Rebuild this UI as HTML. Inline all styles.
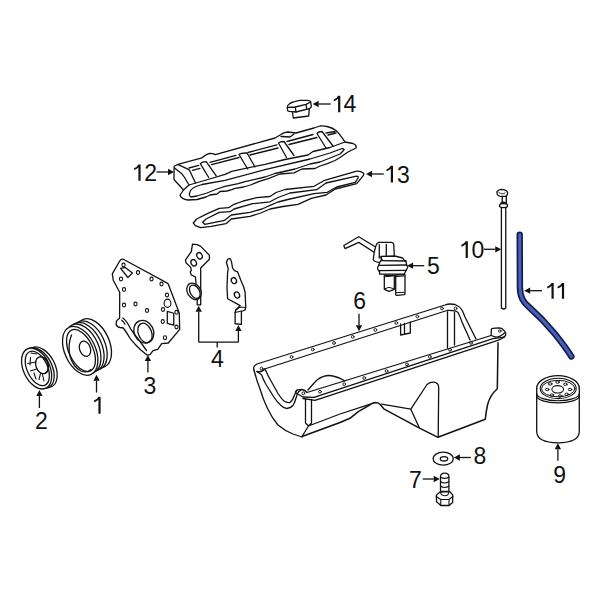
<!DOCTYPE html>
<html><head><meta charset="utf-8">
<style>
html,body{margin:0;padding:0;background:#fff;}
svg{display:block;}
text{font-family:"Liberation Sans",sans-serif;font-size:23px;fill:#111;}
</style></head>
<body>
<svg width="600" height="600" viewBox="0 0 600 600">
<g fill="none" stroke="#111" stroke-width="1.3" stroke-linejoin="round" stroke-linecap="butt">
<line x1="330.7" y1="104" x2="318.70" y2="104.00"/><path d="M312.7,104 L318.70,100.85 L318.70,107.15 Z" fill="#111" stroke="none"/><line x1="156.5" y1="172" x2="168.00" y2="172.00"/><path d="M174,172 L168.00,175.15 L168.00,168.85 Z" fill="#111" stroke="none"/><line x1="383.8" y1="174" x2="372.00" y2="174.00"/><path d="M366,174 L372.00,170.85 L372.00,177.15 Z" fill="#111" stroke="none"/><line x1="483.75" y1="249.3" x2="495.25" y2="249.30"/><path d="M501.25,249.3 L495.25,252.45 L495.25,246.15 Z" fill="#111" stroke="none"/><line x1="542" y1="290.7" x2="530.20" y2="290.70"/><path d="M524.2,290.7 L530.20,287.55 L530.20,293.85 Z" fill="#111" stroke="none"/><line x1="424.2" y1="265.7" x2="413.10" y2="265.70"/><path d="M407.1,265.7 L413.10,262.55 L413.10,268.85 Z" fill="#111" stroke="none"/><line x1="359" y1="313.8" x2="359.00" y2="325.30"/><path d="M359,331.3 L355.85,325.30 L362.15,325.30 Z" fill="#111" stroke="none"/><line x1="147.9" y1="372.5" x2="147.90" y2="361.00"/><path d="M147.9,355 L151.05,361.00 L144.75,361.00 Z" fill="#111" stroke="none"/><line x1="198.7" y1="342.15" x2="198.70" y2="311.80"/><path d="M198.7,305.8 L201.85,311.80 L195.55,311.80 Z" fill="#111" stroke="none"/><line x1="238.4" y1="342.15" x2="238.40" y2="331.00"/><path d="M238.4,325 L241.55,331.00 L235.25,331.00 Z" fill="#111" stroke="none"/><path d="M198.7,342.15 L238.4,342.15 M217.2,342.15 L217.2,347.4" fill="none"/><line x1="96.5" y1="392.5" x2="96.50" y2="380.70"/><path d="M96.5,374.7 L99.65,380.70 L93.35,380.70 Z" fill="#111" stroke="none"/><line x1="39.4" y1="408" x2="39.40" y2="396.10"/><path d="M39.4,390.1 L42.55,396.10 L36.25,396.10 Z" fill="#111" stroke="none"/><line x1="557.9" y1="460.8" x2="557.90" y2="449.30"/><path d="M557.9,443.3 L561.05,449.30 L554.75,449.30 Z" fill="#111" stroke="none"/><line x1="470.9" y1="457.5" x2="459.90" y2="457.50"/><path d="M453.9,457.5 L459.90,454.35 L459.90,460.65 Z" fill="#111" stroke="none"/><line x1="422.7" y1="479" x2="433.70" y2="479.00"/><path d="M439.7,479 L433.70,482.15 L433.70,475.85 Z" fill="#111" stroke="none"/>
</g>
<g fill="#fff" stroke="#111" stroke-width="1.3" stroke-linejoin="round" stroke-linecap="round">
<!-- 14_oil_cap -->
<path d="M292.3,111.5 L293.3,118 L308.7,116 L309.3,108.5 Z"/>
<path d="M287.3,107.3 Q287.5,105 289.3,104 Q291,102.5 293.3,102 Q296,101 300,100.3 L308,100.3 Q310.5,100.8 310.7,102 L311.3,106 L311,107.3 L309.3,108.7 L296,112 L289.3,111.3 Q287.7,111 287.7,110.7 Z"/>
<path d="M287.3,107.3 L295.3,107 L306,104.3 L310.7,102 M295.3,107 L296,112 M306,104.3 L306.7,108.7" fill="none"/>
<!-- 13_gasket -->
<path d="M193.3,223 L196.7,219 L207.3,213.7 L219.3,208.3 L228.7,207.7 L234,204.3 L243.3,201 L256.7,197.7 L270,196.5 L276,192.5 L285.2,189.5 L314,186.3 L324.7,180.3 L356.7,171.2 Q360.5,170.8 363.3,173 Q364.5,174.5 362.7,176.3 L356.7,183.7 L335.3,189 L326,195 L311.3,198.3 L298,204.3 L283,206.5 L270,209 L260.7,213 L250,216.3 L231.3,219 L226,223.7 L211.3,226.3 L200.7,227.7 L195.3,225.7 Z"/>
<path d="M202.7,222.3 L206,219 L219.3,212.3 L230,211.7 L234,209 L252.7,203.7 L270,201.8 L278,197.5 L290,193 L316.7,189.7 L326,183 L356.5,176.2 Q359,176.3 358,178 L355.3,182.3 L336.7,187 L327.3,192.3 L314,193.7 L290,199 L278,202 L270,205.4 L262,209 L250,212.3 L231.3,215 L224.7,220.3 L204.7,224.3 Z" fill="none"/>
<!-- 12_valve_cover_flange -->
<path d="M174.1,166.25 L178.7,164.2 L202,157.9 Q204,155.3 209.5,153.3 Q213,153.3 215.3,154.6 L275,138 L281,134.5 Q284,132 288,132 L296,133 L314,128 L320,126 Q324,125.8 327,126.5 Q333,128 336,130.5 Q339,133 345,142 L353,143.5 Q357,145 356,148 L353,149.5 L348,152 L340,157.5 L335,160.5 L326.7,163.8 L320,166 L315,168.5 L302,169 L294,172.8 L280,174 L268.3,178.6 L260,181.2 L250.3,185 L243.7,187 L235,188.3 L231.7,189.7 L227,191 L220,191.5 L217,194 L210,195 L206,197 L197,199.5 L188,200 Q181,199 180,195 L183.5,190 L174,179.5 Z"/>
<path d="M183.5,190 L189,185 L208,179.5 L225,174.3 L231.7,171.3 L265,164.3 L285,159.5 L308,155 L313,151.5 L330,147.5 L345,142" fill="none"/>
<path d="M189.5,193.5 Q190,189 196,186.5 L202,184.5 L225,180.3 L265,169.7 L310,159 L330,153 L342,148.5 Q345,149 343.5,150.5 L340,154 L330,158 L320,162 L310,164 L295,169 L275,173.5 L265,177 L245,181.7 L238.3,183.7 L225,186.3 L217,189 L207,193 L197,196 L191,197 Q189,196 189.5,193.5 Z" fill="none"/>
<path d="M174.5,168 L181.2,173.3 Q183,175 184.5,177.5 L189,185 M178.25,164.6 L187.8,169.2 Q189.5,170 190,171.25 L195.5,183 M281,136.5 L290,137 L294,134" fill="none"/>
<path d="M189,168 L198.7,165.4 M210,162.3 L236,155.3 M248,152.5 L277,144.8 M287,141.5 L313,134.5 M326,133 L335,131.5 M192.4,170.4 L200,168.3 M211.6,164.6 L239,157.5 M250,155 L278,148 M289,144.5 L317,137.5 M328,135 L336,133" fill="none"/>
<path d="M208.7,177.5 L200.3,163.6 Q202,161.8 206.2,161.7 L216.2,175.8 M247.7,169 L239,154.5 Q241,152.8 247,153 L255,167 M286.5,157.5 L278.5,143 Q280,141.5 284,141.5 L294,155.5 M326,148 L317,133.5 Q318.5,131.5 322,131.5 L333,146" fill="none"/>
<!-- 5_fuel_pump -->
<path d="M343.75,245.5 L358.75,236.75 L376,247.2 L374.5,252.5 L358.75,242.4 L345,248.6 Z"/>
<path d="M375.7,246.3 Q376.5,243 378.7,242.3 L391.3,242.3 Q393.5,242.5 393.8,244.5 L394.3,256.5 L381,257 L381.5,262.3 L379.3,262.3 Q373.5,261.5 373.3,259.7 L374,253.3 Z"/>
<path d="M379.3,244.7 L379.3,258 M386.3,244.5 L386.3,255.7" fill="none"/>
<path d="M381,256.3 L394.7,256 L402.7,258 L404,260 L406,261 L406.5,265 Q408,266.5 407.7,267.3 L406.3,270.3 L405.5,271.5 L404.3,274 L379.7,274.2 L379.5,271.5 L378.7,270.7 Q377,269 377.7,267.3 L378.7,265.3 L380,262 L380.7,260.7 L382,260 Z"/>
<path d="M380.7,260.7 L406,261 M378.7,265.3 L406.7,265 M378.7,270.7 L406.3,270.3" fill="none"/>
<path d="M384.3,275.3 L384.3,289.3 L389,291.3 L394.3,289.3 L394.3,275.3 Z"/>
<path d="M385,288.7 L389,287.3 L393.6,288.7 M385.5,276.7 L393,276" fill="none" stroke-width="1"/>
<path d="M395.7,275 L395.7,294.7 Q396,295.3 397,295.3 L404.3,294.7 L405,294 L405,274.7 Z"/>
<path d="M396.5,292.7 L404.3,292.3 M396.5,276.5 L404,276" fill="none" stroke-width="1"/>
<!-- 9_oil_filter -->
<path d="M536.7,388.4 L536.7,431.6 Q537,442.8 558,442.8 Q579,442.8 579.3,431.6 L579.3,388.4"/>
<path d="M536.7,388.4 A21.3,12.8 0 0 1 579.3,388.4" fill="none"/>
<path d="M536.7,393.4 A21.3,7.4 0 0 0 579.3,393.4" fill="none" stroke-width="1.1"/>
<path d="M536.7,396 A21.3,6.9 0 0 0 579.3,396" fill="none" stroke-width="1.1"/>
<ellipse cx="558.2" cy="388.4" rx="18" ry="10.2" fill="none" stroke-width="1.1"/>
<ellipse cx="558.2" cy="388.6" rx="16.7" ry="8.25" fill="none" stroke-width="1"/>
<ellipse cx="557.7" cy="389.3" rx="5.85" ry="3.7" fill="none" stroke-width="1.1"/>
<g fill="none" stroke-width="1">
<ellipse cx="550.2" cy="383.9" rx="1.8" ry="1.2"/><ellipse cx="557.6" cy="382.1" rx="1.8" ry="1.2"/>
<ellipse cx="565.4" cy="384.3" rx="1.8" ry="1.2"/><ellipse cx="570.1" cy="389.5" rx="1.8" ry="1.2"/>
<ellipse cx="566.7" cy="394.3" rx="1.8" ry="1.2"/><ellipse cx="560.2" cy="396" rx="1.8" ry="1.2"/>
<ellipse cx="551.9" cy="395.1" rx="1.8" ry="1.2"/><ellipse cx="547.2" cy="389.5" rx="1.8" ry="1.2"/>
</g>
<!-- 8_washer -->
<ellipse cx="443.2" cy="458.7" rx="10.1" ry="6.5"/>
<ellipse cx="444" cy="458.8" rx="3.7" ry="2.2" fill="none"/>
<!-- 7_bolt -->
<path d="M440.5,491.5 L440.5,476.5 Q440.8,473.2 444.7,473.2 Q448.7,473.2 448.9,476.5 L448.9,491.5 Z"/>
<path d="M440.6,477.2 Q444.7,479.6 448.8,477.2 M440.6,481.8 Q444.7,484.2 448.8,481.8 M440.6,486.3 Q444.7,488.7 448.8,486.3" fill="none" stroke-width="1.1"/>
<path d="M436.3,495.2 L440,492 L449.8,491.6 L452.8,495 L452.6,502.5 L449,505.5 L440.8,505.5 L436.6,501.8 Z"/>
<path d="M436.3,496.5 L440.8,499.5 L449,499.5 L452.8,496.5 M440.8,499.5 L440.8,505.5 M449,499.5 L449,505.5" fill="none" stroke-width="1.1"/>
<path d="M440.6,492.5 Q441,495.5 444.7,495.7 Q448.5,495.5 448.8,492.5" fill="none" stroke-width="1.1"/>
<!-- 3_timing_cover -->
<path d="M119.7,261 Q121,258.5 123.3,259.2 L165.5,282.1 L168.25,283.9 L178.3,310.5 L179.25,313.25 L179.7,329.3 L168.3,343 L161.7,343.7 L157.7,349.3 L153,350.7 L150,354.7 L147.3,355.2 L140.8,350 L135,344.2 L130,338.3 Q127,333 123.3,328 L120,327.5 Q115.5,326.5 116.25,322.5 Q116,320.5 119.6,318.3 L119.7,292.2 L113.25,280.25 L112.3,273.8 Z"/>
<path d="M122.9,317.9 Q127,321 130.8,329.2 L135,335 L140.8,342.5 L146.5,350.5 M121.7,320.2 Q123.5,321.5 125,324.2" fill="none"/>
<ellipse cx="143.8" cy="331.7" rx="9.7" ry="11.6" transform="rotate(-25 143.8 331.7)" fill="none"/>
<ellipse cx="145" cy="333" rx="6.6" ry="10.2" transform="rotate(-22 145 333)" fill="none"/>
<ellipse cx="167.5" cy="303.25" rx="3.4" ry="4.1" fill="none" stroke-width="1.1"/>
<path d="M120.6,268.3 L125.2,267.4 L132.5,272.9 L127.9,277.5 Z M167.3,311.4 L173.75,313.25 L173.75,325.2 L167.3,323.3 Z" fill="none"/>
<g fill="none" stroke-width="1.1">
<ellipse cx="123.5" cy="265" rx="1.6" ry="1.9"/><ellipse cx="138" cy="272.5" rx="1.6" ry="1.9"/><ellipse cx="121" cy="279" rx="1.6" ry="1.9"/><ellipse cx="151.5" cy="279" rx="1.6" ry="1.9"/><ellipse cx="161.5" cy="284" rx="1.6" ry="1.9"/><ellipse cx="124" cy="289.5" rx="1.6" ry="1.9"/><ellipse cx="167" cy="295" rx="1.6" ry="1.9"/><ellipse cx="124" cy="305" rx="1.6" ry="1.9"/><ellipse cx="135.5" cy="304" rx="1.6" ry="1.9"/><ellipse cx="147" cy="310.5" rx="1.6" ry="1.9"/><ellipse cx="163" cy="309.5" rx="1.6" ry="1.9"/><ellipse cx="176.5" cy="312.3" rx="1.6" ry="1.9"/><ellipse cx="162.75" cy="321.5" rx="1.6" ry="1.9"/><ellipse cx="176.5" cy="327" rx="1.6" ry="1.9"/><ellipse cx="165" cy="337.7" rx="1.6" ry="1.9"/>
</g>
<!-- 4_gaskets -->
<path d="M192.5,244.1 L197.2,244.7 L200.7,246.4 L209.4,255.2 L209.4,259.3 L200.7,268 L200.7,304.8 L197.2,304.8 L197.2,298 L196,283.2 L195.4,276.8 L191.3,275 L190.2,272.1 L191.3,270.3 L190.75,267.4 L186,262.8 L185.5,259.8 L191.3,251.7 Z"/>
<ellipse cx="199.5" cy="255.75" rx="2.6" ry="3.3" transform="rotate(-30 199.5 255.75)" fill="none"/>
<ellipse cx="193.7" cy="262.75" rx="2.6" ry="3.3" transform="rotate(-30 193.7 262.75)" fill="none"/>
<ellipse cx="194" cy="291.3" rx="6.6" ry="8.8" transform="rotate(-33 194 291.3)"/>
<ellipse cx="194.8" cy="291.7" rx="4.6" ry="7.2" transform="rotate(-30 194.8 291.7)" fill="none"/>
<path d="M227.6,259.4 Q228.5,258.5 230.1,258.75 L231.4,261.25 L232.6,268.1 L234.5,270.6 L237.6,271.9 L240.75,280 L243.9,287.5 L245.1,292.5 L245.75,307.5 L245.1,310 L241.4,311.5 L241.4,324.4 L235.1,323.75 L235.1,312.5 L235.75,310 L240.1,305.6 L235.75,303.1 L227.6,298.75 L227,287.5 L227.6,272.5 L228.25,268.75 L226.4,262.5 Z"/>
<path d="M235.1,312.5 L241.4,311 M235.75,310 L240.1,307 L245.5,307.5" fill="none" stroke-width="1.1"/>
<ellipse cx="233.9" cy="280.6" rx="2.5" ry="3.1" transform="rotate(-25 233.9 280.6)" fill="none"/>
<ellipse cx="237" cy="295" rx="2.5" ry="3.1" transform="rotate(-25 237 295)" fill="none"/>
<!-- 1_pulley -->
<ellipse cx="93.8" cy="343.1" rx="15.3" ry="26" transform="rotate(-25 93.8 343.1)"/>
<ellipse cx="89.5" cy="345.3" rx="15.3" ry="26" transform="rotate(-25 89.5 345.3)"/>
<ellipse cx="86.4" cy="346.9" rx="15.3" ry="26" transform="rotate(-25 86.4 346.9)"/>
<ellipse cx="83.3" cy="348.5" rx="15.3" ry="26" transform="rotate(-25 83.3 348.5)"/>
<ellipse cx="80.2" cy="350.8" rx="15.3" ry="26" transform="rotate(-25 80.2 350.8)"/>
<ellipse cx="81" cy="350.5" rx="12.0" ry="22.5" transform="rotate(-25 81 350.5)" fill="none"/>
<path d="M71.5,335 Q67.5,345 70,356 Q73,367 81,371 Q87,373.5 91,369.5" fill="none"/>
<ellipse cx="85" cy="348.75" rx="5.4" ry="7.8" transform="rotate(-20 85 348.75)" fill="none"/>
<!-- 2_pulley -->
<ellipse cx="42" cy="367.2" rx="13" ry="21.7" transform="rotate(-27 42 367.2)"/>
<ellipse cx="39" cy="368" rx="13" ry="21.7" transform="rotate(-27 39 368)"/>
<ellipse cx="36.6" cy="368.5" rx="13.2" ry="21.7" transform="rotate(-25 36.6 368.5)"/>
<ellipse cx="37.3" cy="368.4" rx="10.2" ry="18.4" transform="rotate(-25 37.3 368.4)" fill="none"/>
<ellipse cx="41.9" cy="365.2" rx="6" ry="8.7" transform="rotate(-20 41.9 365.2)" fill="none"/>
<path d="M44.6,357.5 Q48.5,361 48.5,367 Q48,372.5 45.5,373.5" fill="none" stroke-width="1.1"/>
<path d="M30.5,357.5 L30,365 M27.5,363.5 L36,362 M30.5,371 L36.5,369 M34,373 L36,379 M39,379.5 L40.5,373.5 M44,381 L42.5,374.5 M31,353 L36.5,354" fill="none" stroke-width="1.1"/>
<!-- 6_oil_pan -->
<g fill="none">
<path d="M254,370.25 Q252.5,366 257,364 L445,305 Q449,303.3 455,304.5 Q460,306.5 462.5,311 L465,317 L471,329 L476,339"/>
<path d="M257,371.5 Q262,372.5 264.5,369 L447,310.5 Q455,310 458,312.5 Q460,316 462,322 Q464.5,328 467,333 L470,340"/>
<path d="M447.5,312 L447.5,348 M454.5,312.5 L454.5,345"/>
<path d="M257,371.5 L261.5,374.75 Q263,379 266,384.5 L273.5,396.5 Q277,402 281,405.5 Q284,408.5 287,408.5 Q291,408 293,405.5 Q295,402 296,398 L297.5,393.5 Q298.5,391 300.5,390.5"/>
<path d="M264.5,369 L266,371 Q268,376 270.5,380 L278,393.5 Q281,398.5 284,401 Q287,403 290,402.5 Q293,400 294.5,395 L296.5,391"/>
<path d="M296,391 Q296.5,389.5 302,389.5 Q305,390 307,392.5 L491.1,335.5 L491.4,329.3 Q491.8,328.3 492.6,328.3 L498.7,327.8 Q501,328 502.2,328.7 L505.1,331.9 Q506,333.5 505.7,334.8 L504.5,336.8 L502,337.3 L493,338.6 L314,397.4 L303,397 L296,393 Q295,392 296,391 Z"/>
<path d="M303,398.5 L315,400.4 L497.8,340.4 Q502,339 504.5,336.8 M491.1,335.5 L496,337.2 Q500,337 504.5,333"/>
<path d="M254,370.25 Q256.5,380 260,389 Q263,399 267.5,408.5 Q272,418 278,425 Q285,431 293,434 L302,437"/>
<path d="M305.5,399 L305.5,423 L308.5,426 L311.5,423 L311.5,399.5 M308.5,426 L302,436.5 M308.5,426 L340,414 L365,405.8 L375,402.5"/>
<path d="M302,436.5 L340,422.5 L350,418.3 L358.3,411.7 L368.3,405.8 Q372,403 375,402.5 Q378.5,402.5 380,404.2 L384.2,409.2 L420,428.3 L438,437.3 L485.3,419.3 Q486,412 487.5,405 Q490,395 497.3,388.7 L498,342.75" stroke-width="1.5"/>
<path d="M308,390 Q313,384 317,380 Q325,374 333,376 Q340,377.5 345,381"/>
<path d="M381.7,404.2 L410.8,409.2 L427,384.5 Q430,382 434,382.2 Q438.5,383 438.7,387.3 L438.2,437 M410.8,409.2 L419.2,427.5"/>
<path d="M400.6,324 L400.6,335 L410.3,333 L410.3,322 M404.5,323.5 L404.5,334.2"/>
</g>
<g fill="none" stroke-width="0.9">
<circle cx="261.5" cy="368.5" r="1.4"/><circle cx="291.5" cy="357" r="1.4"/><circle cx="312.7" cy="349.5" r="1.4"/>
<circle cx="334" cy="343" r="1.4"/><circle cx="352.7" cy="336.8" r="1.4"/><circle cx="375.3" cy="329.9" r="1.4"/>
<circle cx="396.3" cy="323" r="1.4"/><circle cx="417.3" cy="316.5" r="1.4"/><circle cx="442" cy="308.5" r="1.4"/>
<circle cx="455.5" cy="308.5" r="1.4"/>
<circle cx="303.3" cy="393.3" r="1.4"/><circle cx="320" cy="391.7" r="1.4"/><circle cx="344.2" cy="384.2" r="1.4"/>
<circle cx="364.2" cy="378" r="1.4"/><circle cx="386.5" cy="371" r="1.4"/><circle cx="407" cy="364.4" r="1.4"/>
<circle cx="429.8" cy="356.8" r="1.4"/><circle cx="450" cy="349.8" r="1.4"/><circle cx="471" cy="342.9" r="1.4"/>
<circle cx="499.8" cy="331" r="1.3"/>
</g>
<!-- 10_dipstick -->
<path d="M501.4,207 L501.4,308 Q503.6,310 505.75,308 L505.75,207" />
<path d="M502.25,196.5 L502.25,202.5 M506.3,196.5 L506.3,202.5" fill="none"/>
<path d="M500.8,204 Q500.5,202.6 503.3,202.2 Q506.5,202.3 506.6,204 Z"/>
<path d="M499.6,205.1 Q499.8,203.6 503.4,203.6 Q507.3,203.6 507.5,205.1 L507.4,206.6 Q506.8,207.6 503.4,207.6 Q500,207.6 499.6,206.6 Z"/>
<path d="M497,191.7 Q498.5,189.3 501.1,189.3 Q503.5,189.4 505.2,190.2 Q507.4,191 507.5,192.25 L507.5,194.3 Q506.8,196 505.2,196.3 L500.5,196.3 Q498,196 497.6,194.9 Q496.6,193 497,191.7 Z"/>
<path d="M498.8,192.5 Q500.5,193.6 501.8,193.8 Q503.5,194 505,193" fill="none" stroke-width="0.9"/>

</g>
<path d="M519.7,234.8 L519.9,287 C520,297 523,302 529,307 C537,314 546,323 555,334 C563,344 568,351 571.4,356.5" fill="none" stroke="#121c4c" stroke-width="6.4" stroke-linecap="round" stroke-linejoin="round"/>
<path d="M519.7,234.8 L519.9,287 C520,297 523,302 529,307 C537,314 546,323 555,334 C563,344 568,351 571.4,356.5" fill="none" stroke="#4661b8" stroke-width="3.0" stroke-linecap="round" stroke-linejoin="round"/>

<g>
<path d="M338.10,95.70 L340.30,95.70 L340.30,112.30 L338.10,112.30 L338.10,98.70 Q336.30,100.60 333.80,101.20 L333.70,99.40 Q336.90,98.30 338.10,95.70 Z" fill="#111"/><text x="343.50" y="112.30">4</text><path d="M138.40,164.50 L140.60,164.50 L140.60,180.75 L138.40,180.75 L138.40,167.50 Q136.60,169.40 134.10,170.00 L134.00,168.20 Q137.20,167.10 138.40,164.50 Z" fill="#111"/><text x="144.25" y="180.75">2</text><path d="M390.80,165.80 L393.00,165.80 L393.00,182.50 L390.80,182.50 L390.80,168.80 Q389.00,170.70 386.50,171.30 L386.40,169.50 Q389.60,168.40 390.80,165.80 Z" fill="#111"/><text x="397.10" y="182.50">3</text><path d="M465.65,241.25 L467.85,241.25 L467.85,257.90 L465.65,257.90 L465.65,244.25 Q463.85,246.15 461.35,246.75 L461.25,244.95 Q464.45,243.85 465.65,241.25 Z" fill="#111"/><text x="471.50" y="257.90">0</text><path d="M551.50,283.00 L553.70,283.00 L553.70,298.80 L551.50,298.80 L551.50,286.00 Q549.70,287.90 547.20,288.50 L547.10,286.70 Q550.30,285.60 551.50,283.00 Z" fill="#111"/><path d="M561.90,283.00 L564.10,283.00 L564.10,298.80 L561.90,298.80 L561.90,286.00 Q560.10,287.90 557.60,288.50 L557.50,286.70 Q560.70,285.60 561.90,283.00 Z" fill="#111"/><text x="426.90" y="274.20">5</text><text x="353.20" y="308.80">6</text><text x="143.60" y="393.75">3</text><text x="211.00" y="367.10">4</text><path d="M98.40,396.75 L100.60,396.75 L100.60,413.75 L98.40,413.75 L98.40,399.75 Q96.60,401.65 94.10,402.25 L94.00,400.45 Q97.20,399.35 98.40,396.75 Z" fill="#111"/><text x="35.00" y="429.00">2</text><text x="553.20" y="482.50">9</text><text x="473.40" y="464.10">8</text><text x="409.00" y="487.50">7</text>
</g>
</svg>
</body></html>
